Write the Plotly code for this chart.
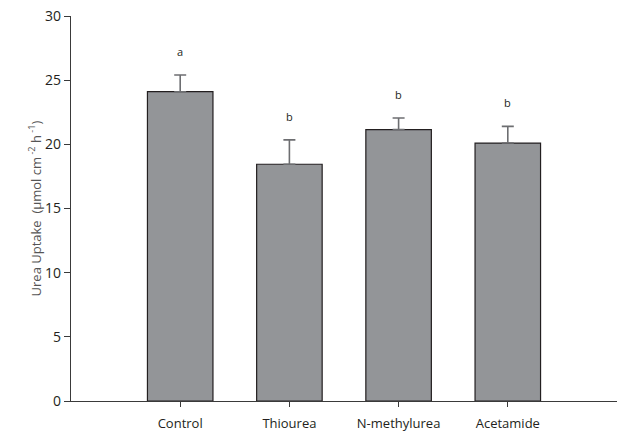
import plotly.graph_objects as go

# Urea uptake by treatment (mean + SE)
treatments = ["Control", "Thiourea", "N-methylurea", "Acetamide"]
uptake = [24.1, 18.45, 21.15, 20.1]
se = [1.3, 1.9, 0.9, 1.3]
letters = ["a", "b", "b", "b"]
positions = [1, 2, 3, 4]

fig = go.Figure()
fig.add_trace(go.Bar(
    x=positions,
    y=uptake,
    width=0.6,
    marker=dict(color="#939598", line=dict(color="#231f20", width=1.2)),
    error_y=dict(type="data", symmetric=False, array=se,
                 arrayminus=[0] * len(se),
                 color="#6d6e71", thickness=1.6, width=6),
    showlegend=False,
    hoverinfo="skip",
))

for xp, m, e, lab in zip(positions, uptake, se, letters):
    fig.add_annotation(x=xp, y=m + e, text=lab, showarrow=False,
                       yanchor="bottom", yshift=14,
                       font=dict(size=11, color="#231f20"))

# y-axis title placed as a rotated annotation beside the tick labels
fig.add_annotation(
    xref="paper", yref="paper", x=-0.066, y=0.5,
    text="Urea Uptake  (μmol cm<sup> -2</sup> h<sup> -1</sup>)",
    textangle=-90, showarrow=False, xanchor="center", yanchor="middle",
    font=dict(size=13, color="#555555"),
)

font_family = "Open Sans, Lato, sans-serif"
fig.update_layout(
    width=622, height=431,
    margin=dict(l=71, r=5, t=16, b=30),
    plot_bgcolor="white", paper_bgcolor="white",
    font=dict(family=font_family, color="#231f20"),
    xaxis=dict(
        range=[0, 5],
        tickmode="array", tickvals=positions, ticktext=treatments,
        showline=True, linecolor="#3a3a3a", linewidth=1.2,
        ticks="outside", ticklen=5, tickcolor="#3a3a3a",
        showgrid=False, zeroline=False,
        tickfont=dict(size=13),
        ticklabelstandoff=5,
        automargin=False,
    ),
    yaxis=dict(
        range=[0, 30], tickmode="linear", tick0=0, dtick=5,
        showline=True, linecolor="#3a3a3a", linewidth=1.2,
        ticks="outside", ticklen=6, tickcolor="#3a3a3a",
        showgrid=False, zeroline=False,
        tickfont=dict(size=14),
        automargin=False,
    ),
)

fig.write_html("out.html")
